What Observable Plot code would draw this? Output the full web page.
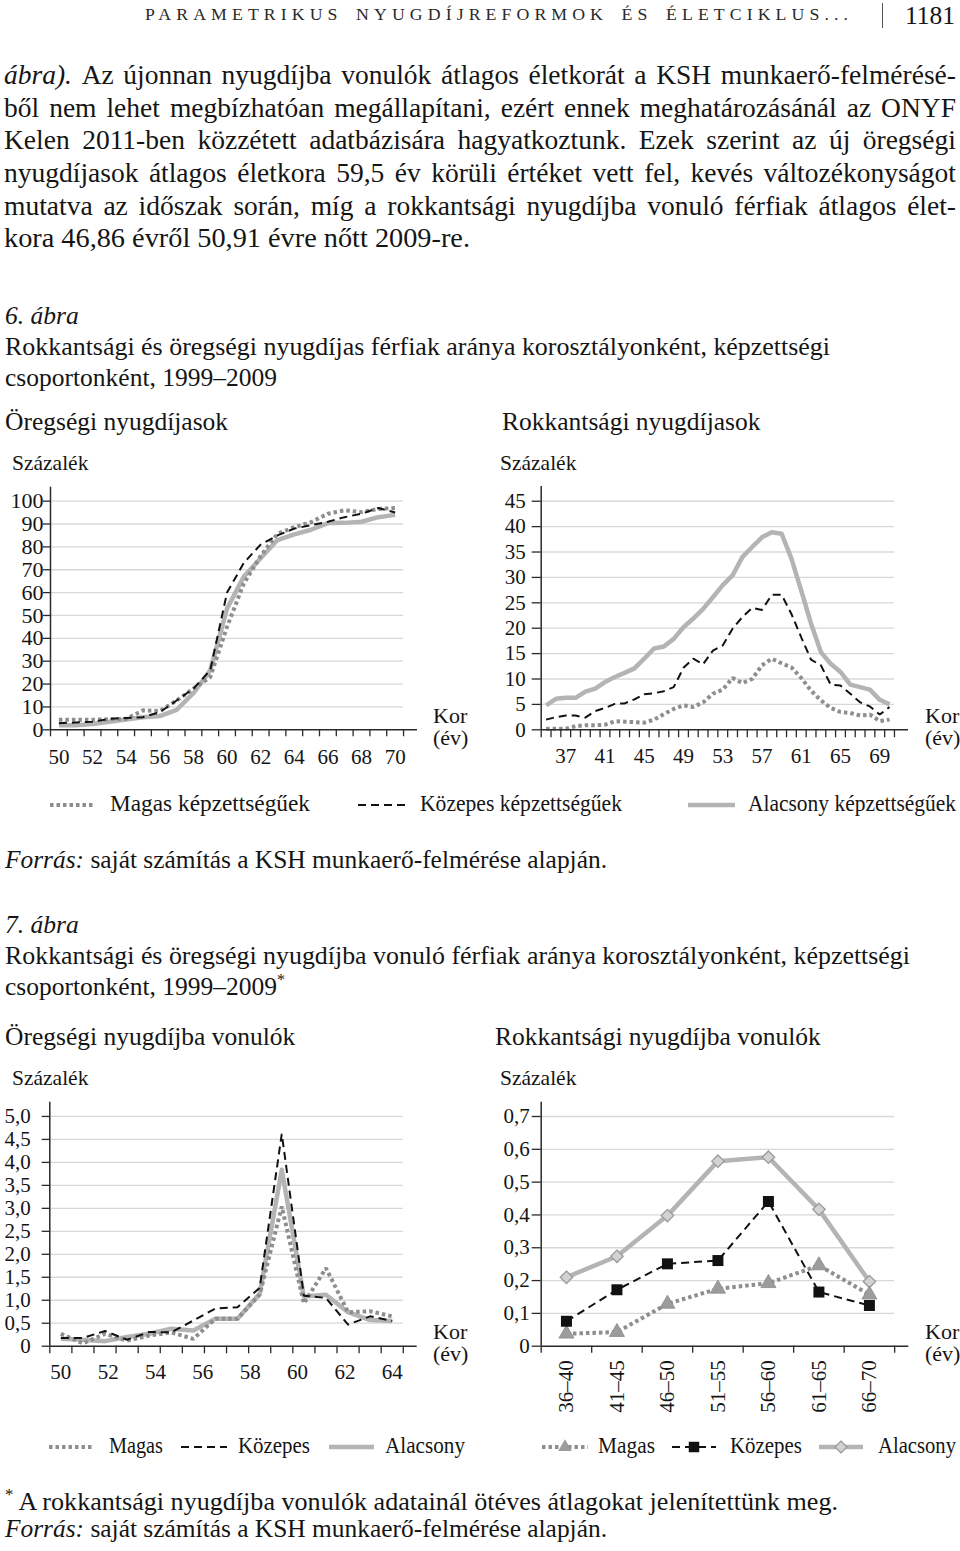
<!DOCTYPE html>
<html><head><meta charset="utf-8">
<script src="https://cdn.jsdelivr.net/npm/d3@7"></script>
<script src="https://cdn.jsdelivr.net/npm/@observablehq/plot@0.6"></script>
<style>
html,body{margin:0;padding:0;background:#fff;}
#page{position:relative;width:960px;height:1551px;overflow:hidden;font-family:"Liberation Serif",serif;color:#151515;}
.t{position:absolute;white-space:nowrap;line-height:1;transform-origin:0 0;}
.j{position:absolute;display:flex;justify-content:space-between;white-space:nowrap;line-height:1;}
.chart{position:absolute;width:480px;}
</style></head><body><div id="page"></div>
<script>
// ---------- DATA ----------
// 6. ábra – Öregségi nyugdíjasok (kor 50–70)
const oregAges = [50,51,52,53,54,55,56,57,58,59,60,61,62,63,64,65,66,67,68,69,70];
const oregMagas    = [4.4,4.4,4.4,4.6,4.8,8.5,8.2,12.8,18,23,45,64,76,85.7,88.6,90.8,94.5,96,95.2,96.6,97];
const oregKozepes  = [2.9,3.2,3.5,4.8,5.2,5.5,7.7,12.8,18,26,60,73,81,85,88,89.5,91,93,94.5,97,95];
const oregAlacsony = [2,2,2.5,3.5,4.5,5.5,6,8.7,16,26,53,67,75,83,85.5,87.5,90.4,90.5,91,93,94];
const oregYTicks = [0,10,20,30,40,50,60,70,80,90,100];
const oregXLabels = [50,52,54,56,58,60,62,64,66,68,70];

// 6. ábra – Rokkantsági nyugdíjasok (kor 35–70)
const rokAges = [35,36,37,38,39,40,41,42,43,44,45,46,47,48,49,50,51,52,53,54,55,56,57,58,59,60,61,62,63,64,65,66,67,68,69,70];
const rokMagas    = [0.2,0.2,0.2,0.7,0.9,0.9,1,1.7,1.6,1.5,1.4,2,3.1,4.1,4.8,4.5,5.4,7.1,7.9,10.2,9.2,10,12.7,14,13.1,12.3,10.2,7.7,5.8,4.3,3.5,3.3,2.8,3,1.7,2];
const rokKozepes  = [2,2.5,2.8,2.8,2.4,3.7,4.3,5.1,5.2,6,7,7.2,7.6,8.4,12.2,14,12.9,15.6,16.6,19.9,22.2,24,23.6,26.6,26.6,22.8,18.2,13.8,12.7,8.9,8.7,7.1,5.4,4.6,3,4.5];
const rokAlacsony = [4.8,6.1,6.3,6.3,7.5,8.1,9.4,10.4,11.2,12.1,14,16,16.4,17.9,20.2,21.9,23.8,26.1,28.5,30.4,34,36,37.9,38.9,38.6,33.7,27.4,20.9,15.3,13,11.4,8.9,8.4,7.9,5.9,5];
const rokYTicks = [0,5,10,15,20,25,30,35,40,45];
const rokXLabels = [37,41,45,49,53,57,61,65,69];

// 7. ábra – Öregségi nyugdíjba vonulók (16 megfigyelés, címkék 50–64)
const vonMagas    = [0.27,0.06,0.27,0.12,0.23,0.30,0.16,0.6,0.6,1.12,3.04,0.93,1.7,0.74,0.76,0.65];
const vonKozepes  = [0.18,0.18,0.33,0.14,0.31,0.30,0.56,0.82,0.85,1.27,4.62,1.1,1.05,0.47,0.65,0.55];
const vonAlacsony = [0.16,0.14,0.11,0.2,0.27,0.38,0.34,0.6,0.6,1.14,3.84,1.08,1.12,0.74,0.57,0.55];
const vonYTicks = [0,0.5,1,1.5,2,2.5,3,3.5,4,4.5,5];
const vonXLabels = [50,52,54,56,58,60,62,64];

// 7. ábra – Rokkantsági nyugdíjba vonulók (ötéves átlagok)
const rvGroups = ["36–40","41–45","46–50","51–55","56–60","61–65","66–70"];
const rvMagas    = [0.038,0.043,0.129,0.175,0.192,0.246,0.157];
const rvKozepes  = [0.076,0.172,0.251,0.261,0.441,0.165,0.124];
const rvAlacsony = [0.21,0.274,0.398,0.564,0.576,0.417,0.197];
const rvYTicks = [0,0.1,0.2,0.3,0.4,0.5,0.6,0.7];

// ---------- STYLES ----------
const AX = "#2a2a2a";
const GRID = "#d8d8d8";
const sMagas    = {stroke:"#8e8e8e", strokeWidth:4, strokeDasharray:"3.5,3", strokeLinejoin:"miter", strokeLinecap:"butt"};
const sKozepes  = {stroke:"#111", strokeWidth:2, strokeDasharray:"8,5", strokeLinejoin:"miter", strokeLinecap:"butt"};
const sAlacsony = {stroke:"#b4b4b4", strokeWidth:4.5, strokeLinejoin:"round", strokeLinecap:"butt"};
const plotStyle = {fontFamily:'"Liberation Serif", serif', fontSize:"21px", overflow:"visible", background:"transparent", color:"#151515"};
const comma = d => d === 0 ? "0" : d.toFixed(1).replace(".", ",");

const page = document.getElementById("page");
function put(html, x, base, size, extra = "", w = null) {
  const d = document.createElement("div");
  d.className = "t";
  d.style.cssText = `left:${x}px;top:${base - 0.8375*size}px;font-size:${size}px;${extra}`;
  d.innerHTML = html;
  page.appendChild(d);
  if (w) {
    const actual = d.getBoundingClientRect().width;
    if (actual > 0) d.style.transform = `scaleX(${w / actual})`;
  }
  return d;
}
function putJ(html, x, base, size, width) {
  const d = document.createElement("div");
  d.className = "j";
  d.style.cssText = `left:${x}px;top:${base - 0.8375*size}px;font-size:${size}px;width:${width}px;`;
  d.innerHTML = html.split(" ").map(w => `<span>${w}</span>`).join("");
  page.appendChild(d);
}
function addChart(svg, left, top) {
  const d = document.createElement("div");
  d.className = "chart";
  d.style.left = left + "px"; d.style.top = top + "px";
  d.appendChild(svg);
  page.appendChild(d);
}
const rows = (xs, ys) => xs.map((x, i) => ({x, y: ys[i]}));

// ---------- HEADER & BODY TEXT ----------
put("PARAMETRIKUS NYUGDÍJREFORMOK ÉS ÉLETCIKLUS...", 145, 21, 17.5, "letter-spacing:5px;word-spacing:4px;color:#2a2a2a;", 708);
const bar = document.createElement("div");
bar.style.cssText = "position:absolute;left:882px;top:3px;width:1px;height:25px;background:#555;";
page.appendChild(bar);
put("1181", 905, 24, 25, "", 50);

const bodyLines = [
  "<i>ábra).</i> Az újonnan nyugdíjba vonulók átlagos életkorát a KSH munkaerő-felmérésé-",
  "ből nem lehet megbízhatóan megállapítani, ezért ennek meghatározásánál az ONYF",
  "Kelen 2011-ben közzétett adatbázisára hagyatkoztunk. Ezek szerint az új öregségi",
  "nyugdíjasok átlagos életkora 59,5 év körüli értéket vett fel, kevés változékonyságot",
  "mutatva az időszak során, míg a rokkantsági nyugdíjba vonuló férfiak átlagos élet-"
];
bodyLines.forEach((l, i) => putJ(l, 4, 84 + 32.7*i, 27.5, 952));
put("kora 46,86 évről 50,91 évre nőtt 2009-re.", 4, 84 + 32.7*5, 27.5, "", 466);

put("<i>6. ábra</i>", 5, 324, 25.5);
put("Rokkantsági és öregségi nyugdíjas férfiak aránya korosztályonként, képzettségi", 5, 355, 25.5, "", 825);
put("csoportonként, 1999–2009", 5, 386.5, 25.5);
put("Öregségi nyugdíjasok", 5, 430, 25.5);
put("Rokkantsági nyugdíjasok", 502, 430, 25.5);
put("Százalék", 12, 471.5, 21.5);
put("Százalék", 500, 471.5, 21.5);

// ---------- CHART 1 ----------
{
  const x0 = d3.min(oregAges) - 0.5, x1 = d3.max(oregAges) + 0.5;
  const bounds = d3.range(x0, x1 + 0.01, 1);
  addChart(Plot.plot({
    width: 480, height: 300, marginLeft: 50, marginRight: 63, marginTop: 6.7, marginBottom: 50.7,
    x: {domain: [x0, x1 + 0.83], label: null}, y: {domain: [0, 106.1], label: null},
    style: plotStyle,
    marks: [
      Plot.ruleY(oregYTicks.filter(d => d > 0), {x1: x0, x2: x1, stroke: GRID, strokeWidth: 1.3}),
      Plot.line(rows(oregAges, oregAlacsony), {x: "x", y: "y", ...sAlacsony}),
      Plot.line(rows(oregAges, oregMagas), {x: "x", y: "y", ...sMagas}),
      Plot.line(rows(oregAges, oregKozepes), {x: "x", y: "y", ...sKozepes}),
      Plot.ruleX([x0], {stroke: AX, strokeWidth: 1.5}),
      Plot.ruleY([0], {stroke: AX, strokeWidth: 1.5}),
      Plot.axisY({ticks: oregYTicks, tickSize: 7, tickPadding: 0, stroke: AX, strokeWidth: 1.3, tickFormat: d => String(d), fontSize: 22, label: null}),
      Plot.axisX({ticks: bounds, tickSize: 7, stroke: AX, strokeWidth: 1.3, tickFormat: () => "", label: null}),
      Plot.axisX({ticks: oregXLabels, tickSize: 0, tickPadding: 19, tickFormat: d => String(d), label: null})
    ]
  }), 0, 480);
}
put("Kor", 433, 723, 22);
put("(év)", 433, 745, 22);

// ---------- CHART 2 ----------
{
  const x0 = d3.min(rokAges) - 0.5, x1 = d3.max(rokAges) + 0.5;
  const bounds = d3.range(x0, x1 + 0.01, 1);
  addChart(Plot.plot({
    width: 480, height: 300, marginLeft: 60.7, marginRight: 52, marginTop: 6, marginBottom: 50.7,
    x: {domain: [x0, x1 + 1.43], label: null}, y: {domain: [0, 47.9], label: null},
    style: plotStyle,
    marks: [
      Plot.ruleY(rokYTicks.filter(d => d > 0), {x1: x0, x2: x1, stroke: GRID, strokeWidth: 1.3}),
      Plot.line(rows(rokAges, rokAlacsony), {x: "x", y: "y", ...sAlacsony}),
      Plot.line(rows(rokAges, rokMagas), {x: "x", y: "y", ...sMagas}),
      Plot.line(rows(rokAges, rokKozepes), {x: "x", y: "y", ...sKozepes}),
      Plot.ruleX([x0], {stroke: AX, strokeWidth: 1.5}),
      Plot.ruleY([0], {stroke: AX, strokeWidth: 1.5}),
      Plot.axisY({ticks: rokYTicks, tickSize: 9, tickPadding: 6.5, stroke: AX, strokeWidth: 1.3, tickFormat: d => String(d), label: null}),
      Plot.axisX({ticks: bounds, tickSize: 8, stroke: AX, strokeWidth: 1.3, tickFormat: () => "", label: null}),
      Plot.axisX({ticks: rokXLabels, tickSize: 0, tickPadding: 18.5, tickFormat: d => String(d), label: null})
    ]
  }), 480, 480);
}
put("Kor", 925, 723, 22);
put("(év)", 925, 745, 22);

// ---------- LEGEND helper ----------
function legendRow(y, items) {
  const svg = d3.create("svg").attr("width", 960).attr("height", 30)
    .style("position", "absolute").style("left", "0px").style("top", (y - 15) + "px");
  for (const it of items) {
    svg.append("line").attr("x1", it.a).attr("x2", it.b).attr("y1", 15).attr("y2", 15)
      .attr("stroke", it.s.stroke).attr("stroke-width", it.s.strokeWidth)
      .attr("stroke-dasharray", it.s.strokeDasharray || null);
    if (it.m) {
      const c = (it.a + it.b) / 2;
      const sym = d3.symbol().type(it.m.type).size(it.m.size)();
      svg.append("path").attr("d", sym).attr("transform", `translate(${c},15)`)
        .attr("fill", it.m.fill).attr("stroke", it.m.stroke || "none").attr("stroke-width", it.m.sw || 0);
    }
  }
  page.appendChild(svg.node());
}

// ---------- LEGEND 1 ----------
legendRow(805, [
  {a: 50, b: 95, s: sMagas}, {a: 358, b: 407, s: sKozepes}, {a: 688, b: 735, s: sAlacsony}
]);
put("Magas képzettségűek", 110, 811, 23, "", 200);
put("Közepes képzettségűek", 420, 811, 23, "", 202);
put("Alacsony képzettségűek", 748, 811, 23, "", 208);

put("<i>Forrás:</i> saját számítás a KSH munkaerő-felmérése alapján.", 5, 868, 25, "", 602);

// ---------- 7. ábra TEXT ----------
put("<i>7. ábra</i>", 5, 933, 25.5);
put("Rokkantsági és öregségi nyugdíjba vonuló férfiak aránya korosztályonként, képzettségi", 5, 964, 25.5, "", 905);
put("csoportonként, 1999–2009<span style='font-size:16px;position:relative;top:-10px'>*</span>", 5, 995.5, 25.5);
put("Öregségi nyugdíjba vonulók", 5, 1045, 25.5);
put("Rokkantsági nyugdíjba vonulók", 495, 1045, 25.5);
put("Százalék", 12, 1086.5, 21.5);
put("Százalék", 500, 1086.5, 21.5);

// ---------- CHART 3 ----------
{
  const n = vonAlacsony.length;
  const idx = d3.range(n);
  const x0 = -0.5, x1 = n - 0.5;
  const bounds = d3.range(x0, x1 + 0.01, 1);
  const labelPos = v => (v - vonXLabels[0]) / (vonXLabels[vonXLabels.length - 1] - vonXLabels[0]) * (n - 1);
  addChart(Plot.plot({
    width: 480, height: 330, marginLeft: 49.3, marginRight: 63.3, marginTop: 1.7, marginBottom: 330 - 245.7,
    x: {domain: [x0, x1 + 0.63], label: null}, y: {domain: [0, 5.31], label: null},
    style: plotStyle,
    marks: [
      Plot.ruleY(vonYTicks.filter(d => d > 0), {x1: x0, x2: x1, stroke: GRID, strokeWidth: 1.3}),
      Plot.line(rows(idx, vonAlacsony), {x: "x", y: "y", ...sAlacsony}),
      Plot.line(rows(idx, vonMagas), {x: "x", y: "y", ...sMagas}),
      Plot.line(rows(idx, vonKozepes), {x: "x", y: "y", ...sKozepes}),
      Plot.ruleX([x0], {stroke: AX, strokeWidth: 1.5}),
      Plot.ruleY([0], {stroke: AX, strokeWidth: 1.5}),
      Plot.axisY({ticks: vonYTicks, tickSize: 7.6, tickPadding: 11.5, stroke: AX, strokeWidth: 1.3, tickFormat: comma, label: null}),
      Plot.axisX({ticks: bounds, tickSize: 7.6, stroke: AX, strokeWidth: 1.3, tickFormat: () => "", label: null}),
      Plot.text(vonXLabels, {x: labelPos, y: 0, text: d => String(d), lineAnchor: "top", dy: 17.7})
    ]
  }), 0, 1100);
}
put("Kor", 433, 1339, 22);
put("(év)", 433, 1361, 22);

// ---------- CHART 4 ----------
{
  const idx = rvGroups.map((g, i) => i);
  const x0 = -0.5, x1 = rvGroups.length - 0.5;
  const bounds = d3.range(x0, x1 + 0.01, 1);
  addChart(Plot.plot({
    width: 480, height: 330, marginLeft: 60.7, marginRight: 51.7, marginTop: 1.7, marginBottom: 330 - 245.7,
    x: {domain: [x0, x1 + 0.28], label: null}, y: {domain: [0, 0.7436], label: null},
    style: plotStyle,
    marks: [
      Plot.ruleY(rvYTicks.filter(d => d > 0), {x1: x0, x2: x1, stroke: GRID, strokeWidth: 1.3}),
      Plot.line(rows(idx, rvAlacsony), {x: "x", y: "y", ...sAlacsony}),
      Plot.dot(rows(idx, rvAlacsony), {x: "x", y: "y", symbol: "diamond2", r: 5.6, fill: "#d2d2d2", stroke: "#9a9a9a", strokeWidth: 1.3}),
      Plot.line(rows(idx, rvMagas), {x: "x", y: "y", ...sMagas}),
      Plot.dot(rows(idx, rvMagas), {x: "x", y: "y", symbol: "triangle", r: 5.6, fill: "#9c9c9c", stroke: "#8a8a8a", strokeWidth: 0.8}),
      Plot.line(rows(idx, rvKozepes), {x: "x", y: "y", ...sKozepes}),
      Plot.dot(rows(idx, rvKozepes), {x: "x", y: "y", symbol: "square", r: 6.2, fill: "#111", stroke: "none"}),
      Plot.ruleX([x0], {stroke: AX, strokeWidth: 1.5}),
      Plot.ruleY([0], {stroke: AX, strokeWidth: 1.5}),
      Plot.axisY({ticks: rvYTicks, tickSize: 9, tickPadding: 2.5, stroke: AX, strokeWidth: 1.3, tickFormat: comma, label: null}),
      Plot.axisX({ticks: bounds, tickSize: 7, stroke: AX, strokeWidth: 1.3, tickFormat: () => "", label: null}),
      Plot.axisX({ticks: idx, tickSize: 0, tickPadding: 14, tickRotate: -90, tickFormat: i => rvGroups[i], label: null})
    ]
  }), 480, 1100);
}
put("Kor", 925, 1339, 22);
put("(év)", 925, 1361, 22);

// ---------- LEGEND 2 ----------
legendRow(1447, [
  {a: 49, b: 92, s: sMagas}, {a: 181, b: 227, s: sKozepes}, {a: 329, b: 374, s: sAlacsony},
  {a: 542, b: 588, s: sMagas, m: {type: d3.symbolTriangle, size: 80, fill: "#9c9c9c"}},
  {a: 672, b: 716, s: sKozepes, m: {type: d3.symbolSquare, size: 110, fill: "#111"}},
  {a: 819, b: 863, s: sAlacsony, m: {type: d3.symbolDiamond2, size: 90, fill: "#d2d2d2", stroke: "#9a9a9a", sw: 1.3}}
]);
put("Magas", 109, 1453, 23, "", 54);
put("Közepes", 238, 1453, 23, "", 72);
put("Alacsony", 385, 1453, 23, "", 80);
put("Magas", 598, 1453, 23, "", 57);
put("Közepes", 730, 1453, 23, "", 72);
put("Alacsony", 878, 1453, 23, "", 78);

put("<span style='font-size:16px;position:relative;top:-10px'>*</span> A rokkantsági nyugdíjba vonulók adatainál ötéves átlagokat jelenítettünk meg.", 5, 1510, 25, "", 833);
put("<i>Forrás:</i> saját számítás a KSH munkaerő-felmérése alapján.", 5, 1537, 25, "", 602);
</script>
</body></html>
